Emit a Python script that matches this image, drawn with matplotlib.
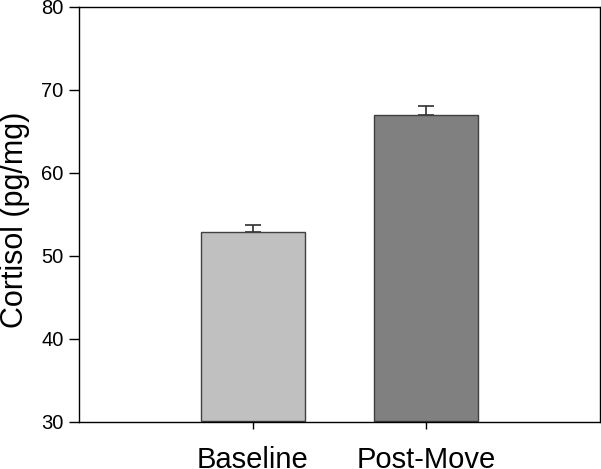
import matplotlib.pyplot as plt

plt.rcParams['font.family'] = ['Liberation Sans', 'DejaVu Sans']

groups = ['Baseline', 'Post-Move']
cortisol = [52.8, 67.0]
sem = [0.85, 1.1]
colors = ['#c0c0c0', '#808080']

fig = plt.figure(figsize=(6.01, 4.69), dpi=100)
ax = fig.add_axes([79 / 601, 1 - 421.5 / 469, 521 / 601, 414.5 / 469])

pos = [1, 2]
ax.bar(pos, [c - 30 for c in cortisol], bottom=30, width=0.6, color=colors,
       edgecolor='#404040', linewidth=1.0, zorder=2)
# only the upper half of the error bar is drawn
ax.errorbar(pos, cortisol, yerr=[[0, 0], sem], fmt='none', ecolor='#303030',
            elinewidth=1.2, capsize=6, capthick=1.2, zorder=1)

ax.set_xlim(0, 3)
ax.set_ylim(30, 80)
ax.set_yticks(range(30, 81, 10))
ax.set_xticks(pos)
ax.set_xticklabels(groups, fontsize=21)
ax.tick_params(axis='y', labelsize=14.5, length=7, width=1, direction='out', pad=4)
ax.tick_params(axis='x', length=5, width=1, direction='out', pad=13)
ax.set_ylabel('Cortisol (pg/mg)', fontsize=22)
ax.yaxis.set_label_coords(-0.094, 0.486)
for s in ax.spines.values():
    s.set_linewidth(1.0)

fig.savefig('out.png', dpi=100)
